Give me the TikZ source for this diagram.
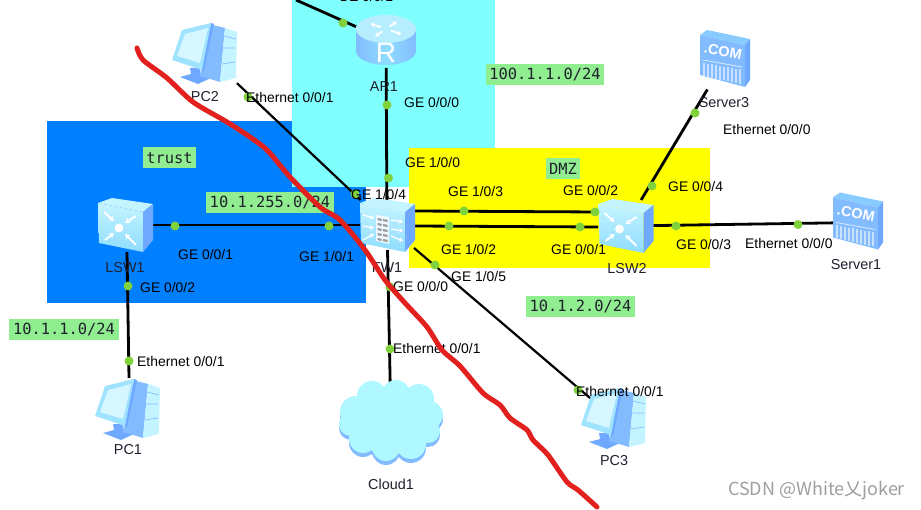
\documentclass[tikz,border=0pt]{standalone}
\usepackage{fontspec}
\setmainfont{Liberation Sans}
\newfontfamily\boxmono{DejaVu Sans Mono}
\newfontfamily\cjkwm{Noto Sans CJK SC}
\usetikzlibrary{arrows.meta}
\definecolor{zonecyan}{HTML}{80FFFF}
\definecolor{zoneblue}{HTML}{0080FF}
\definecolor{zoneyellow}{HTML}{FFFF00}
\definecolor{tagfill}{HTML}{90EE90}
\definecolor{portgreen}{HTML}{80D23C}
\definecolor{inkred}{HTML}{E2201E}
\definecolor{inkdark}{HTML}{20202E}
\definecolor{iconlight}{HTML}{C4F4FF}
\definecolor{iconmid}{HTML}{8FDCFF}
\definecolor{iconside}{HTML}{6FA9FF}
\definecolor{iconblue}{HTML}{82BCFF}
\definecolor{cloudfill}{HTML}{B0F8FF}
\tikzset{
  link/.style={line width=2.8pt,black},
  thinlink/.style={line width=2.2pt,black},
  portdot/.style={circle,fill=portgreen,inner sep=0pt,minimum size=9pt},
  porttext/.style={font=\fontsize{13.9}{15}\selectfont,text=black,inner sep=0pt,anchor=west},
  devname/.style={font=\fontsize{14.4}{16}\selectfont,text=inkdark,inner sep=0pt},
  tagbox/.style={fill=tagfill,font=\boxmono\fontsize{15.4}{17}\selectfont,text=inkdark,inner sep=0pt,minimum height=21pt},
  ghostbox/.style={inner sep=0pt,outer sep=0pt,minimum width=#1},
  boxarrow/.style={white,line width=1.8pt,-{Stealth[length=5pt,width=6pt]}},
  fwarrow/.style={white,line width=1.3pt,-{Stealth[length=4pt,width=5pt]}},
  pics/boxbody/.style={code={
    \fill[iconlight] (-27,-22)--(-13,-27)--(28,-21)--(18,-13)--cycle;
    \shade[top color=iconlight,bottom color=iconmid] (-27,-22)--(18,-13)--(18,27)--(-26,18)--cycle;
    \fill[iconside] (18,-13)--(28,-21)--(28,15)--(18,27)--cycle;
  }},
  pics/switchicon/.style={code={
    \pic {boxbody};
    \fill[white] (-6,3) circle (4.4);
    \draw[boxarrow] (-21,-13)--(-11,-4);
    \draw[boxarrow] (11,-9)--(0,-2);
    \draw[boxarrow] (-20,15)--(-11,8);
    \draw[boxarrow] (11,20)--(0,9);
  }},
  pics/firewallicon/.style={code={
    \pic {boxbody};
    \fill[white!85!iconmid] (-11,-10)--(2,-8)--(2,19)--(-11,16)--cycle;
    \foreach \q in {-7,-2,3,8,13}{
      \fill[gray!80] (-9.5,\q)--(-5.5,\q+.8)--(-5.5,\q+3)--(-9.5,\q+2.2)--cycle;
      \fill[gray!80] (-4,\q+1)--(0.5,\q+1.8)--(0.5,\q+4)--(-4,\q+3.2)--cycle;
    }
    \draw[fwarrow] (-24,-10)--(-13,-7);
    \draw[fwarrow] (-24,1)--(-13,3);
    \draw[fwarrow] (-24,15)--(-13,9);
    \draw[fwarrow] (4,-5)--(16,-3);
    \draw[fwarrow] (4,4)--(16,6);
    \draw[fwarrow] (4,11)--(16,16);
  }},
  pics/routericon/.style={code={
    \shade[left color=iconblue,right color=iconblue,middle color=iconmid]
      (-30,-11)--(30,-11)--(30,11) arc[start angle=0,end angle=180,x radius=30,y radius=14]--cycle;
    \fill[iconlight!75!iconmid] (0,-11) ellipse[x radius=30,y radius=14];
    \foreach \r in {35,125,215,305}{
      \draw[white,line width=1.8pt,-{Stealth[length=4pt,width=5pt]}]
        ({cos(\r)*6},{-11+sin(\r)*3}) -- ({cos(\r)*19},{-11+sin(\r)*9});
    }
    \node[white,inner sep=0pt,font=\fontsize{28}{28}\selectfont] at (0,13) {R};
  }},
  pics/pcicon/.style={code={
    \fill[iconside] (-15,15)--(-5,15)--(-4,23)--(6,25)--(-7,31)--(-25,24)--(-14,21)--cycle;
    \fill[iconblue] (8,-28)--(20,-25)--(15,29)--(-5,23)--cycle;
    \fill[iconlight] (20,-25)--(32,-21)--(31,25)--(15,29)--cycle;
    \draw[iconblue,line width=.7pt] (19,-17)--(31,-14) (18,-5)--(30,-5) (17,11)--(30,9);
    \fill[iconside] (6,-30)--(9,-29)--(-1,18)--(-4,17)--cycle;
    \fill[iconmid!70!iconlight] (-23,-23)--(6,-30)--(-3,17)--(-33,7)--cycle;
    \fill[iconlight!70!white] (-20,-19)--(3,-25)--(-5,10)--(-28,3)--cycle;
  }},
  pics/servericon/.style={code={
    \fill[iconmid!50!iconblue] (-25,-25)--(-18,-30)--(25,-21)--(20,-15)--cycle;
    \fill[iconblue] (-25,-25)--(20,-15)--(20,27)--(-25,15)--cycle;
    \fill[iconside] (20,-15)--(25,-21)--(25,20)--(20,27)--cycle;
    \node[white,inner sep=0pt,rotate=-11,font=\bfseries\fontsize{14.5}{14.5}\selectfont] at (-2,-9) {.COM};
    \draw[white!70!iconblue,line width=.8pt] (-22,0)--(17,7);
    \foreach \b in {-21,-17,-13,-9,-5,-1,3,7,11,15}{
      \draw[white!55!iconblue,line width=1.1pt] (\b,{3+(\b+21)*.18})--(\b,{16+(\b+21)*.22});
    }
  }},
  pics/cloudicon/.style={code={
    \foreach \sh/\col in {4/iconblue,0/cloudfill}{
      \fill[\col,yshift=-\sh pt]
        (0,-1) ellipse[x radius=44,y radius=33]
        (-35,-10) circle (16) (-19,-26) circle (15) (5,-28) circle (14)
        (28,-23) circle (15) (38,-7) circle (14) (37,9) circle (12)
        (20,22) circle (15) (-5,25) circle (14) (-28,17) circle (14) (-40,2) circle (12);
    }
  }},
}
\begin{document}
\begin{tikzpicture}[x=1pt,y=-1pt]
\useasboundingbox (0,0) rectangle (921,510);
\clip (0,0) rectangle (921,510);
\fill[white] (0,0) rectangle (921,510);
% zones
\fill[zoneblue] (47,121) rectangle (365.5,303);
\fill[zonecyan] (292,0) rectangle (495,187);
\fill[zoneyellow] (409,148) rectangle (710,268);
% device anchors
\node[ghostbox=60pt,minimum height=56pt] (AR1) at (386,40) {};
\node[ghostbox=54pt,minimum height=50pt] (FW1) at (387,225) {};
\node[ghostbox=55pt,minimum height=54pt] (LSW1) at (125,225) {};
\node[ghostbox=55pt,minimum height=52pt] (LSW2) at (625.5,226) {};
\node[ghostbox=64pt,minimum height=62pt] (PC1) at (128,409) {};
\node[ghostbox=64pt,minimum height=62pt] (PC2) at (205,53) {};
\node[ghostbox=64pt,minimum height=62pt] (PC3) at (614,418) {};
\node[ghostbox=50pt,minimum height=59pt] (Server3) at (725,60) {};
\node[ghostbox=50pt,minimum height=59pt] (Server1) at (858,222.5) {};
\node[ghostbox=104pt,minimum height=80pt] (Cloud1) at (391,424) {};
\coordinate (upstream) at (296,0);
\coordinate (pcthreeend) at (590,398);
% connectors
\draw[link] (upstream) -- (AR1);
\draw[link] (AR1) -- (FW1);
\draw[thinlink] (PC2) -- (FW1);
\draw[link] (LSW1) -- (FW1);
\draw[link] ([xshift=2pt]LSW1.south) -- ([xshift=1pt]PC1.north);
\draw[link] (FW1) -- (Cloud1);
\draw[link] ([yshift=14pt]FW1.east) -- ([yshift=14pt]LSW2.west);
\draw[link] ([yshift=-1pt]FW1.east) -- ([yshift=-1pt]LSW2.west);
\draw[link] (LSW2) -- (Server3);
\draw[link] (LSW2) -- (Server1);
% icons
\pic at (AR1) {routericon};
\pic at (FW1) {firewallicon};
\pic at (LSW1) {switchicon};
\pic at (LSW2) {switchicon};
\pic at (PC1) {pcicon};
\pic at (PC2) {pcicon};
\pic at (PC3) {pcicon};
\pic at (Server3) {servericon};
\pic at (Server1) {servericon};
\pic at (391,422) {cloudicon};
\draw[thinlink] (FW1) -- (pcthreeend);
% port dots
\foreach \n/\p in {a/{343,23},b/{387,105},c/{388.5,178},d/{248,97},e/{355,194},f/{175,226},g/{329,226},h/{128,286},i/{129,361},j/{464,211},k/{595,212},l/{449,226},m/{580,227},n/{435,265},o/{578,390},p/{390,287},q/{390,349},r/{652,186},s/{695,113},t/{676,226},u/{798,224.5}}{
  \node[portdot] (dot\n) at (\p) {};
}
% port labels
\node[porttext] (pa) at (338,-3) {GE 0/0/1};
\node[porttext] (pb) at (404,103) {GE 0/0/0};
\node[porttext] (pc) at (405,163) {GE 1/0/0};
\node[porttext] (pd) at (246,98) {Ethernet 0/0/1};
\node[porttext] (pe) at (351,195) {GE 1/0/4};
\node[porttext] (pf) at (178,255) {GE 0/0/1};
\node[porttext] (pg) at (299,257) {GE 1/0/1};
\node[porttext] (ph) at (140,288) {GE 0/0/2};
\node[porttext] (pi) at (137,362) {Ethernet 0/0/1};
\node[porttext] (pj) at (448,192) {GE 1/0/3};
\node[porttext] (pk) at (563,191) {GE 0/0/2};
\node[porttext] (pl) at (441,250) {GE 1/0/2};
\node[porttext] (pm) at (551,250) {GE 0/0/1};
\node[porttext] (pn) at (451,277) {GE 1/0/5};
\node[porttext] (po) at (576,392) {Ethernet 0/0/1};
\node[porttext] (pp) at (393,287) {GE 0/0/0};
\node[porttext] (pq) at (393,349) {Ethernet 0/0/1};
\node[porttext] (pr) at (668,187) {GE 0/0/4};
\node[porttext] (ps) at (723,130) {Ethernet 0/0/0};
\node[porttext] (pt) at (676,245) {GE 0/0/3};
\node[porttext] (pu) at (745,244) {Ethernet 0/0/0};
% device names
\node[devname] (nAR1) at (384,87) {AR1};
\node[devname] (nPC2) at (205,97) {PC2};
\node[devname] (nLSW1) at (125,268) {LSW1};
\node[devname] (nFW1) at (387,268) {FW1};
\node[devname] (nLSW2) at (627,269) {LSW2};
\node[devname] (nPC1) at (128,450) {PC1};
\node[devname] (nCloud) at (391,484) {Cloud1};
\node[devname] (nPC3) at (614,461) {PC3};
\node[devname] (nSrv3) at (724,103) {Server3};
\node[devname] (nSrv1) at (856,265) {Server1};
% tags
\node[tagbox,minimum width=118pt] (t100) at (545,74.5) {100.1.1.0/24};
\node[tagbox,minimum width=53pt] (ttrust) at (169.5,158) {trust};
\node[tagbox,minimum width=34pt] (tdmz) at (563,168.5) {DMZ};
\node[tagbox,minimum width=128pt] (t255) at (270,202.5) {10.1.255.0/24};
\node[tagbox,minimum width=110pt] (t11) at (64,329.5) {10.1.1.0/24};
\node[tagbox,minimum width=109pt] (t12) at (580.5,306.5) {10.1.2.0/24};
% red ink stroke
\draw[inkred,line width=5pt,line cap=round,line join=round] plot[smooth,tension=.45] coordinates {
 (137,48) (143,60) (167,78) (193,102) (227,122) (247,135) (267,150) (290,177) (320,207) (340,220) (365,250) (385,280) (405,303) (427,327) (442,350) (460,366) (483,393) (500,405) (510,418) (527,430) (533,440) (548,455) (567,482) (578,490) (597,507)};
% watermark
\node[inner sep=0pt,anchor=west,text=gray!75,font=\fontsize{18}{19}\selectfont] (wm) at (728,490.5) {\cjkwm CSDN @White乂joker};
\end{tikzpicture}
\end{document}
